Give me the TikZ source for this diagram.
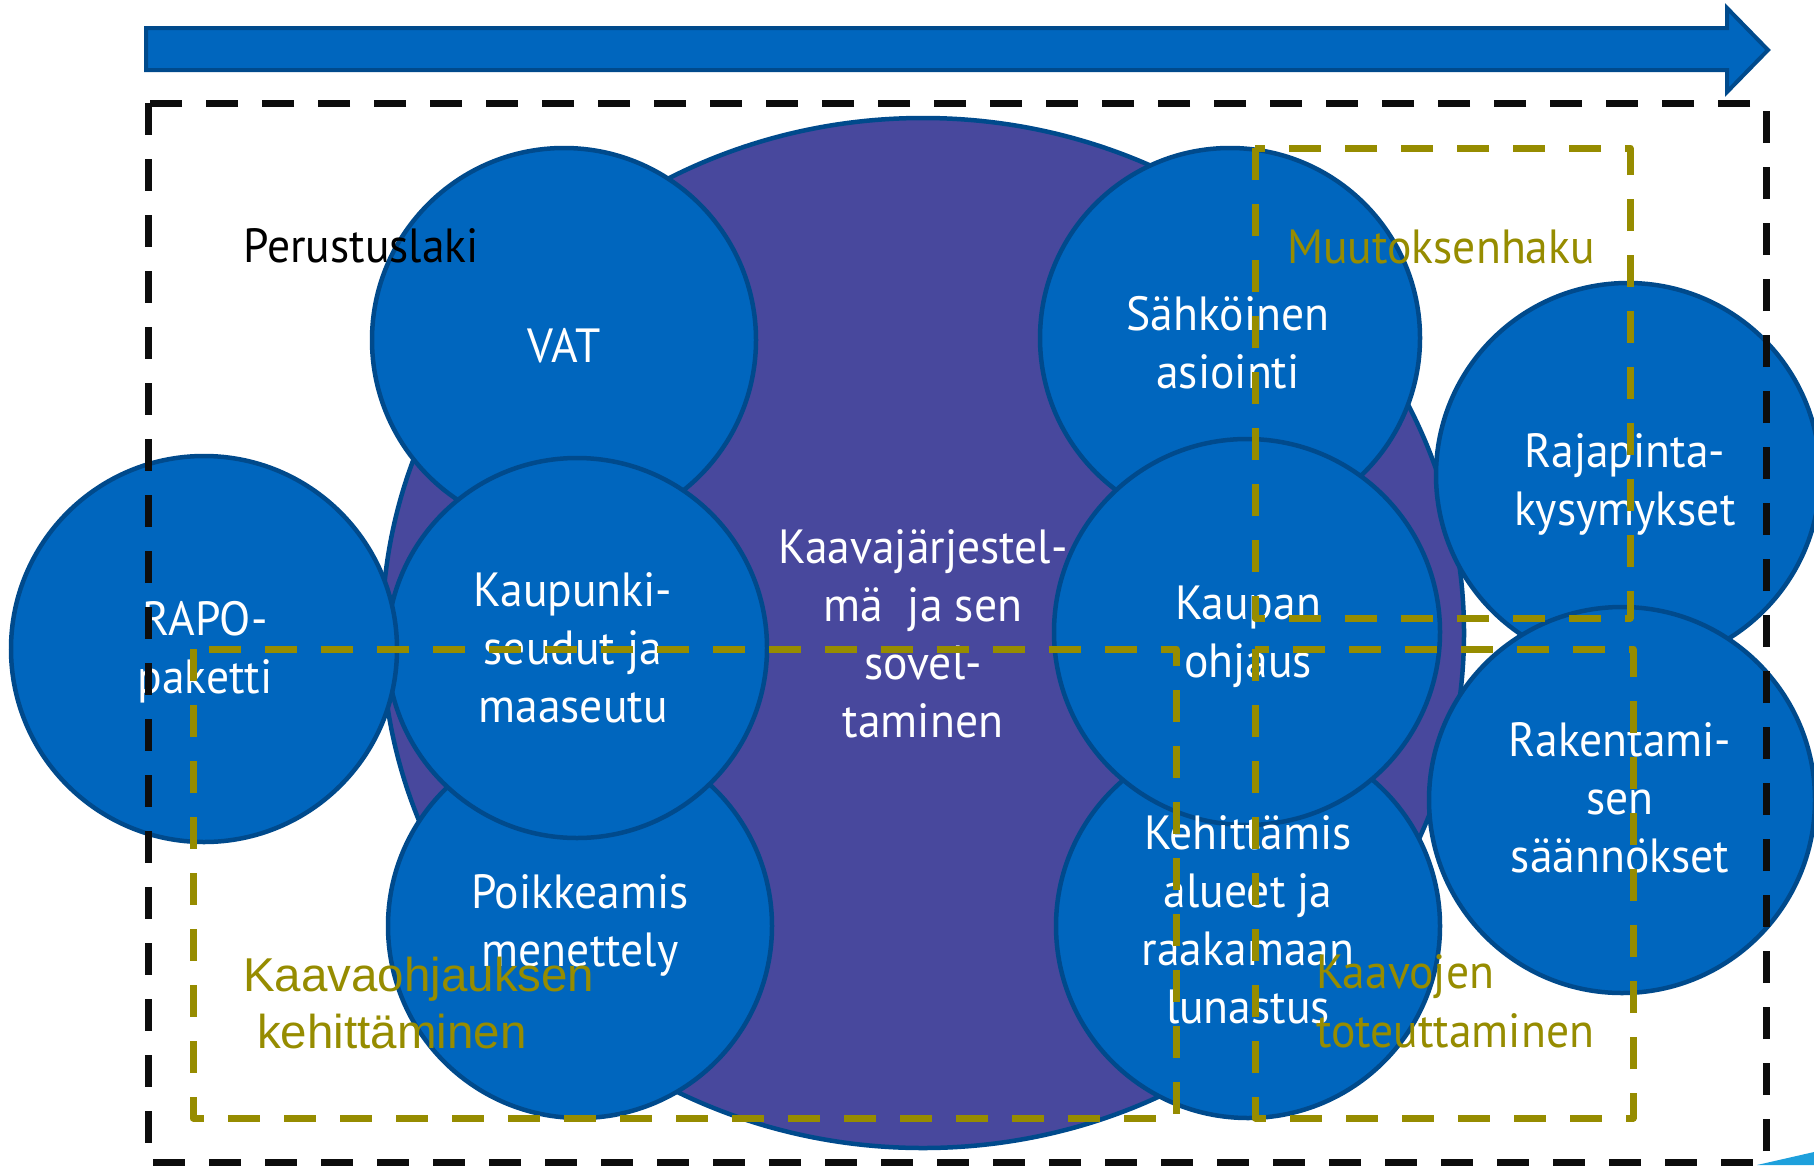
\documentclass[tikz,border=0pt]{standalone}
\usepackage{fontspec}
\setmainfont[FakeStretch=0.95]{PT Sans}
\newfontfamily\arialf{Liberation Sans}
\usetikzlibrary{shapes.geometric}
\definecolor{cfill}{RGB}{0,102,190}
\definecolor{cedge}{RGB}{0,74,140}
\definecolor{cpurple}{RGB}{72,72,157}
\definecolor{colive}{RGB}{150,140,0}
\definecolor{ccyan}{RGB}{30,160,220}
\tikzset{
  bubble/.style={circle, draw=cedge, fill=cfill, line width=4.5pt, minimum size=#1, inner sep=0pt},
  ctext/.style={text=white, align=center, inner sep=0pt, anchor=base,
     font=\fontsize{48}{58}\selectfont},
  olivebox/.style={draw=colive, line width=7pt, dash pattern=on 32pt off 24pt, line join=round},
  blackbox/.style={draw=black!95, line width=7pt, dash pattern=on 32pt off 24pt},
  olivetxt/.style={text=colive, inner sep=0pt, font=\fontsize{48}{58}\selectfont},
  oliveari/.style={text=colive, inner sep=0pt, font=\arialf\fontsize{47.5}{57}\selectfont},
}
\begin{document}
\begin{tikzpicture}[x=1pt,y=-1pt]
\useasboundingbox (0,0) rectangle (1814,1165);
% top arrow
\draw[draw=cedge, fill=cfill, line width=4pt, line join=miter]
  (146,28) -- (1727,28) -- (1727,8) -- (1768,50) -- (1727,92) -- (1727,70) -- (146,70) -- cycle;
% central ellipse
\node[ellipse, draw=cedge, fill=cpurple, line width=4.5pt, minimum width=1082pt, minimum height=1030pt,
      inner sep=0pt] (kaava) at (923,633) {};
\node[ctext] (kaavat) at (923,737) {Kaavajärjestel-\\mä\ \ ja sen\\sovel-\\taminen};
% left column
\node[bubble=384pt] (vat) at (564,340) {};
\node[bubble=384pt] (poik) at (580,926) {};
\node[bubble=380pt] (kaup) at (577,648) {};
\node[bubble=386pt] (rapo) at (204,649) {};
% middle-right column
\node[bubble=380pt] (sahk) at (1230,338) {};
\node[bubble=384pt] (kehi) at (1248,926) {};
\node[bubble=386pt] (kauo) at (1247,632) {};
% right column
\node[bubble=384pt] (raja) at (1628,475) {};
\node[bubble=386pt] (rake) at (1622,800) {};
% circle texts (placed at the baseline of their last line)
\node[ctext] (vatt) at (564,362) {VAT};
\node[ctext] (poikt) at (580,966) {Poikkeamis\\menettely};
\node[ctext] (kaupt) at (573,722) {Kaupunki-\\seudut ja\\maaseutu};
\node[ctext] (rapot) at (205,693) {RAPO-\\paketti};
\node[ctext] (sahkt) at (1228,388) {Sähköinen\\asiointi};
\node[ctext] (kehit) at (1248,1023) {Kehittämis\\alueet ja\\raakamaan\\lunastus};
\node[ctext] (kauot) at (1248,677) {Kaupan\\ohjaus};
\node[ctext] (rajat) at (1625,525) {Rajapinta-\\kysymykset};
\node[ctext] (raket) at (1620,872) {Rakentami-\\sen\\säännökset};
% olive labels
\node[oliveari, anchor=base west] (koh1) at (243,991) {Kaavaohjauksen};
\node[oliveari, anchor=base west] (koh2) at (257,1048) {kehittäminen};
\node[olivetxt, anchor=base west] (kto1) at (1316,988) {Kaavojen};
\node[olivetxt, anchor=base west] (kto2) at (1316,1047) {toteuttaminen};
\node[olivetxt, anchor=base west] (muut) at (1287,263) {Muutoksenhaku};
% dashed frames
\draw[olivebox] (193,649) rectangle (1176,1118);
\draw[olivebox] (1255,649) rectangle (1633,1118);
\draw[olivebox] (1255,148) rectangle (1630,618);
\draw[blackbox] (148,103) rectangle (1766,1162);
% black label
\node[inner sep=0pt, anchor=base west, font=\fontsize{48}{58}\selectfont] (perus) at (243,262) {Perustuslaki};
% corner sliver
\fill[ccyan] (1757,1165) -- (1814,1152) -- (1814,1165) -- cycle;
\end{tikzpicture}
\end{document}
